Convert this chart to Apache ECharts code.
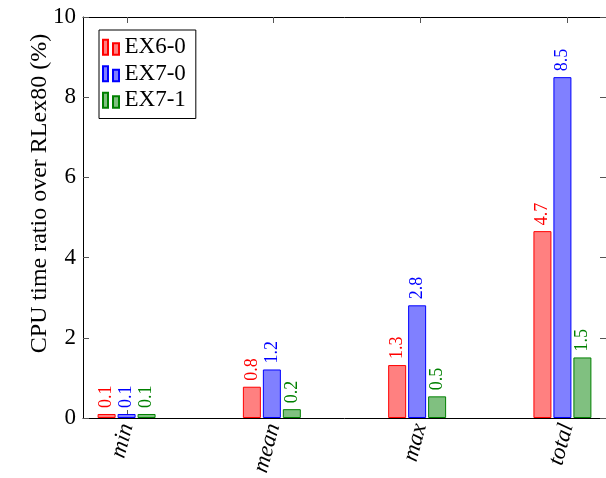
<!DOCTYPE html>
<html><head><meta charset="utf-8">
<script src="https://cdn.jsdelivr.net/npm/echarts@6/dist/echarts.min.js"></script>
<style>html,body{margin:0;padding:0;background:#fff}#c{width:606px;height:478px}</style>
</head><body><div id="c"></div>
<script>
var categories = ['min', 'mean', 'max', 'total'];
var seriesNames = ['EX6-0', 'EX7-0', 'EX7-1'];
var ex60 = [0.1, 0.78, 1.32, 4.66];
var ex70 = [0.1, 1.21, 2.81, 8.5];
var ex71 = [0.1, 0.22, 0.54, 1.51];
var yTicks = [0, 2, 4, 6, 8, 10];

var FONT = '"Liberation Serif", serif';
var fills = ['#ff8080', '#8080ff', '#80c080'];
var strokes = ['#ff0000', '#0000ff', '#008000'];
var values = [ex60, ex70, ex71];

var chart = echarts.init(document.getElementById('c'), null, {renderer: 'canvas'});

var series = values.map(function (vals, s) {
  return {
    name: seriesNames[s],
    type: 'bar',
    xAxisIndex: 0,
    yAxisIndex: 0,
    barWidth: 18,
    barGap: '11%',
    data: vals.map(function (v, i) { return [i, v]; }),
    itemStyle: {color: fills[s], borderColor: strokes[s], borderWidth: 1},
    label: {
      show: true,
      position: 'top',
      rotate: 90,
      align: 'left',
      verticalAlign: 'middle',
      distance: 6,
      fontFamily: FONT,
      fontSize: 18,
      color: strokes[s],
      formatter: function (p) { return p.value[1].toFixed(1); }
    }
  };
});

var option = {
  animation: false,
  backgroundColor: '#fff',
  textStyle: {fontFamily: FONT},
  grid: [
    {left: 83, top: 17, width: 528, height: 401, containLabel: false},
    {left: 127, top: 17, width: 440, height: 401, containLabel: false}
  ],
  legend: {
    orient: 'vertical',
    left: 99,
    top: 30,
    data: seriesNames,
    backgroundColor: '#fff',
    borderColor: '#000',
    borderWidth: 1,
    borderRadius: 0,
    padding: [4, 10, 5, 3],
    itemWidth: 17,
    itemHeight: 15,
    itemGap: 0,
    icon: 'path://M0 0H5V15H0Z M10 3.5H16V15H10Z',
    textStyle: {fontFamily: FONT, fontSize: 23, color: '#000', lineHeight: 26.5}
  },
  xAxis: [
    {type: 'value', gridIndex: 0, min: -0.3, max: 3.3, position: 'bottom',
      axisLine: {show: true, onZero: false, lineStyle: {color: '#000', width: 1}},
      axisTick: {show: false}, axisLabel: {show: false}, splitLine: {show: false}},
    {type: 'value', gridIndex: 0, min: -0.3, max: 3.3, position: 'top',
      axisLine: {show: true, onZero: false, lineStyle: {color: '#000', width: 1}},
      axisTick: {show: false}, axisLabel: {show: false}, splitLine: {show: false}},
    {type: 'value', gridIndex: 1, min: 0, max: 3, interval: 1, position: 'bottom',
      axisLine: {show: false, onZero: false},
      axisTick: {show: true, inside: true, length: 6, lineStyle: {color: '#555'}},
      axisLabel: {show: true, rotate: 75, margin: 8, fontFamily: FONT, fontStyle: 'italic', fontSize: 23, color: '#000',
        formatter: function (v) { return categories[Math.round(v)] || ''; }},
      splitLine: {show: false}},
    {type: 'value', gridIndex: 1, min: 0, max: 3, interval: 1, position: 'top',
      axisLine: {show: false, onZero: false},
      axisTick: {show: true, inside: true, length: 6, lineStyle: {color: '#555'}},
      axisLabel: {show: false}, splitLine: {show: false}}
  ],
  yAxis: [
    {type: 'value', gridIndex: 0, min: yTicks[0], max: yTicks[yTicks.length - 1], interval: 2, position: 'left',
      name: 'CPU time ratio over RLex80 (%)', nameLocation: 'middle', nameGap: 31, nameRotate: 90,
      nameMoveOverlap: false,
      nameTextStyle: {fontFamily: FONT, fontSize: 24, color: '#000', padding: [0, 0, 0, 48]},
      axisLine: {show: true, onZero: false, lineStyle: {color: '#000', width: 1}},
      axisTick: {show: true, inside: true, length: 6, lineStyle: {color: '#555'}},
      axisLabel: {show: true, margin: 7, fontFamily: FONT, fontSize: 23, color: '#000'},
      splitLine: {show: false}},
    {type: 'value', gridIndex: 0, min: 0, max: 10, interval: 2, position: 'right',
      axisLine: {show: true, onZero: false, lineStyle: {color: '#000', width: 1}},
      axisTick: {show: true, inside: true, length: 6, lineStyle: {color: '#555'}},
      axisLabel: {show: false}, splitLine: {show: false}},
    {type: 'value', gridIndex: 1, min: 0, max: 10, show: false}
  ],
  series: series
};
chart.setOption(option);
</script></body></html>
